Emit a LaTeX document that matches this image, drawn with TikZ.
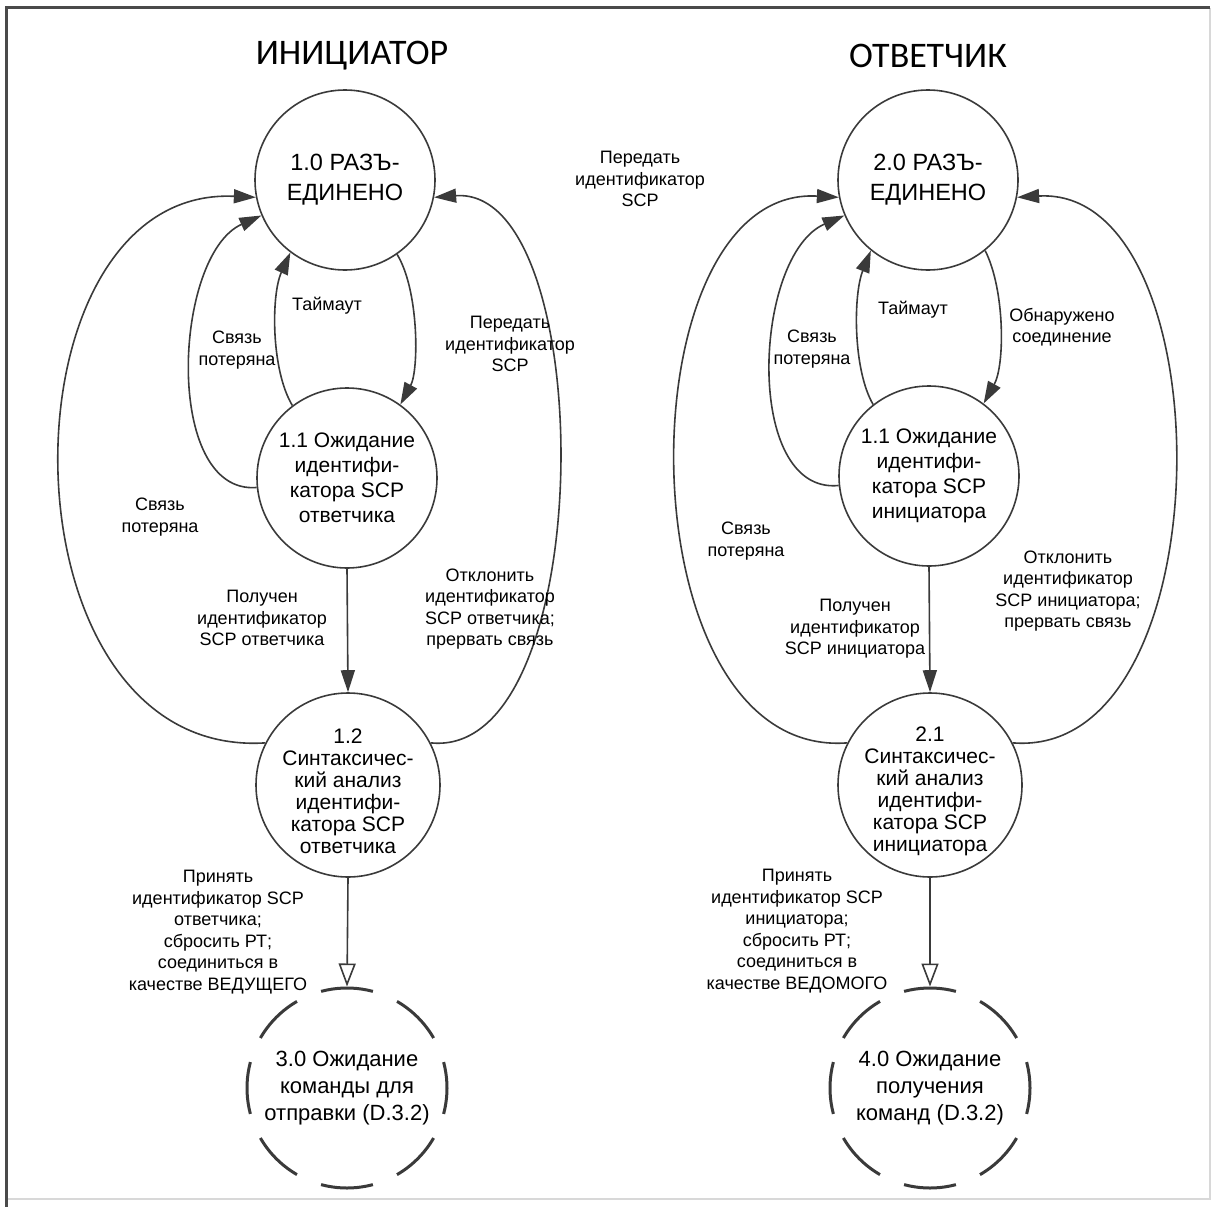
\documentclass[tikz,border=0pt]{standalone}
\usepackage{fontspec}
\setmainfont{Liberation Sans}
\newfontfamily\titlefont{Carlito}
\usetikzlibrary{arrows.meta}
\definecolor{ln}{HTML}{3A3A3A}
\definecolor{frm}{HTML}{4A4A4A}
\definecolor{frl}{HTML}{D8D8D8}
\begin{document}
\begin{tikzpicture}[x=1pt,y=-1pt,
  st/.style={circle,draw=ln,line width=1.6pt,inner sep=0pt,minimum size=#1},
  st/.default=180pt,
  dsh/.style={circle,draw=ln,line width=3pt,inner sep=0pt,minimum size=200pt,
     dash pattern=on 52.36pt off 26.18pt,dash phase=26.18pt},
  ctxt/.style={align=center,inner sep=0pt,font=\fontsize{21}{25}\selectfont},
  ctxs/.style={align=center,inner sep=0pt,font=\fontsize{21}{22}\selectfont},
  ctxb/.style={align=center,inner sep=0pt,font=\fontsize{23.5}{30}\selectfont},
  ctxd/.style={align=center,inner sep=0pt,font=\fontsize{22}{27}\selectfont},
  lbl/.style={align=center,inner sep=0pt,font=\fontsize{18}{21.5}\selectfont},
  ttl/.style={inner sep=0pt,font=\titlefont\fontsize{36}{42}\selectfont},
  con/.style={draw=ln,line width=1.6pt,-{Triangle[length=22pt,width=14pt]}},
  oar/.style={draw=ln,line width=1.6pt,-{Triangle[open,length=23pt,width=17pt,fill=white]}}
]
\useasboundingbox (0,0) rectangle (1215,1207);
% frame
\draw[frl,line width=1.2pt] (6,1199) -- (1210,1199) -- (1210,8);
\draw[frm,line width=3pt] (1210,8) -- (6,8) -- (6,1207);

% titles
\node[ttl] (T1) at (352,56) {ИНИЦИАТОР};
\node[ttl] (T2) at (928,56) {ОТВЕТЧИК};

% ---------- left column ----------
\node[st,label={[ctxb]center:1.0 РАЗЪ-\\ЕДИНЕНО}] (C10) at (345,180) {};
\node[st,label={[ctxt]center:1.1 Ожидание\\идентифи-\\катора SCP\\ответчика}] (C11) at (347,478) {};
\node[st=184pt,label={[ctxs,yshift=-6pt]center:1.2\\Синтаксичес-\\кий анализ\\идентифи-\\катора SCP\\ответчика}] (C12) at (348,785) {};
\node[dsh,label={[ctxd]center:3.0 Ожидание\\команды для\\отправки (D.3.2)}] (D30) at (347,1088) {};

\draw[con] (C10.305) .. controls (419,290) and (419,370) .. (C11.54);
\draw[con] (C11.127) .. controls (271,370) and (271,295) .. (C10.233);
\draw[con] (C11.186) .. controls (163,495) and (173,255) .. (C10.203);
\draw[con] (C12.153) .. controls (-6,760) and (-6,185) .. (C10.191);
\draw[con] (C12.27) .. controls (600,760) and (600,185) .. (C10.349);
\draw[con] (C11.south) -- (C12.north);
\draw[oar] (C12.south) -- (D30.north);

\node[lbl] (L1) at (510,344) {Передать\\идентификатор\\SCP};
\node[lbl] (L2) at (327,306) {Таймаут};
\node[lbl] (L3) at (237,350) {Связь\\потеряна};
\node[lbl] (L4) at (160,517) {Связь\\потеряна};
\node[lbl] (L5) at (262,618) {Получен\\идентификатор\\SCP ответчика};
\node[lbl] (L6) at (490,609) {Отклонить\\идентификатор\\SCP ответчика;\\прервать связь};
\node[lbl] (L7) at (218,932) {Принять\\идентификатор SCP\\ответчика;\\сбросить РТ;\\соединиться в\\качестве ВЕДУЩЕГО};

\node[lbl] (L0) at (640,179) {Передать\\идентификатор\\SCP};

% ---------- right column ----------
\node[st,label={[ctxb]center:2.0 РАЗЪ-\\ЕДИНЕНО}] (C20) at (928,180) {};
\node[st,label={[ctxt]center:1.1 Ожидание\\идентифи-\\катора SCP\\инициатора}] (C21a) at (929,476) {};
\node[st=184pt,label={[ctxs,yshift=-6pt]center:2.1\\Синтаксичес-\\кий анализ\\идентифи-\\катора SCP\\инициатора}] (C22) at (930,785) {};
\node[dsh,label={[ctxd]center:4.0 Ожидание\\получения\\команд (D.3.2)}] (D40) at (930,1088) {};

\draw[con] (C20.309) .. controls (1005,290) and (1005,365) .. (C21a.53);
\draw[con] (C21a.128) .. controls (853,370) and (853,295) .. (C20.231);
\draw[con] (C21a.186) .. controls (743,495) and (753,255) .. (C20.203);
\draw[con] (C22.153) .. controls (621,760) and (621,185) .. (C20.191);
\draw[con] (C22.27) .. controls (1227,760) and (1227,185) .. (C20.349);
\draw[con] (C21a.south) -- (C22.north);
\draw[oar] (C22.south) -- (D40.north);

\node[lbl] (R1) at (1062,327) {Обнаружено\\соединение};
\node[lbl] (R2) at (913,310) {Таймаут};
\node[lbl] (R3) at (812,349) {Связь\\потеряна};
\node[lbl] (R4) at (746,541) {Связь\\потеряна};
\node[lbl] (R5) at (855,629) {Получен\\идентификатор\\SCP инициатора};
\node[lbl] (R6) at (1068,591) {Отклонить\\идентификатор\\SCP инициатора;\\прервать связь};
\node[lbl] (R7) at (797,931) {Принять\\идентификатор SCP\\инициатора;\\сбросить РТ;\\соединиться в\\качестве ВЕДОМОГО};
\end{tikzpicture}
\end{document}
